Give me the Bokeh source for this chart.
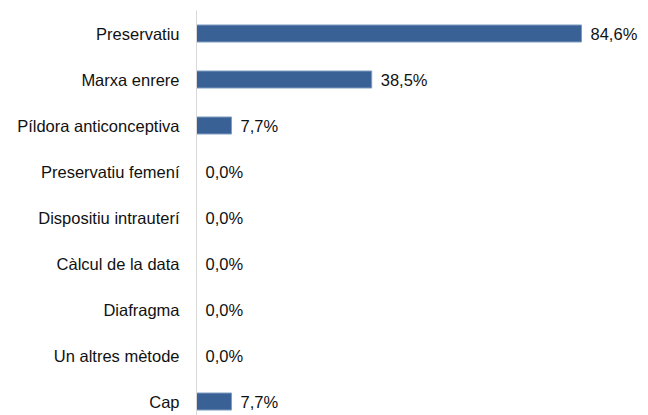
from bokeh.plotting import figure
from bokeh.models import Range1d, ColumnDataSource, FixedTicker
from bokeh.core.properties import value
from bokeh.embed import file_html
from bokeh.resources import INLINE

categories = ["Preservatiu", "Marxa enrere", "Píldora anticonceptiva", "Preservatiu femení",
              "Dispositiu intrauterí", "Càlcul de la data", "Diafragma", "Un altres mètode", "Cap"]
values = [84.6, 38.5, 7.7, 0.0, 0.0, 0.0, 0.0, 0.0, 7.7]
labels = ["84,6%", "38,5%", "7,7%", "0,0%", "0,0%", "0,0%", "0,0%", "0,0%", "7,7%"]

pos = list(range(len(categories)))
src = ColumnDataSource(dict(y=pos, v=values, lab=labels))

p = figure(width=640, height=415, output_backend="svg", toolbar_location=None,
           x_range=Range1d(0, 97.56), y_range=Range1d(8.304, -0.5),
           min_border_left=196, min_border_right=0, min_border_top=10, min_border_bottom=0)
p.outline_line_color = None
p.background_fill_color = "white"
p.border_fill_color = "white"
p.grid.visible = False

p.hbar(y="y", left=0, right="v", height=0.37, source=src,
       fill_color="#3A6196", line_color="#7F9CC0", line_width=1)
p.text(x="v", y="y", text="lab", source=src, x_offset=9,
       text_align="left", text_baseline="middle",
       text_font=value("Liberation Sans"), text_font_size="16.5px", text_color="#111111")

p.xaxis.visible = False
ya = p.yaxis[0]
ya.ticker = FixedTicker(ticks=pos)
ya.major_label_overrides = {i: c for i, c in enumerate(categories)}
ya.major_tick_line_color = None
ya.minor_tick_line_color = None
ya.axis_line_color = "#D9D9D9"
ya.axis_line_width = 1
ya.major_label_standoff = 11
ya.major_label_text_font = "Liberation Sans"
ya.major_label_text_font_size = "16.5px"
ya.major_label_text_color = "#111111"

open("out.html", "w").write(file_html(p, INLINE))
